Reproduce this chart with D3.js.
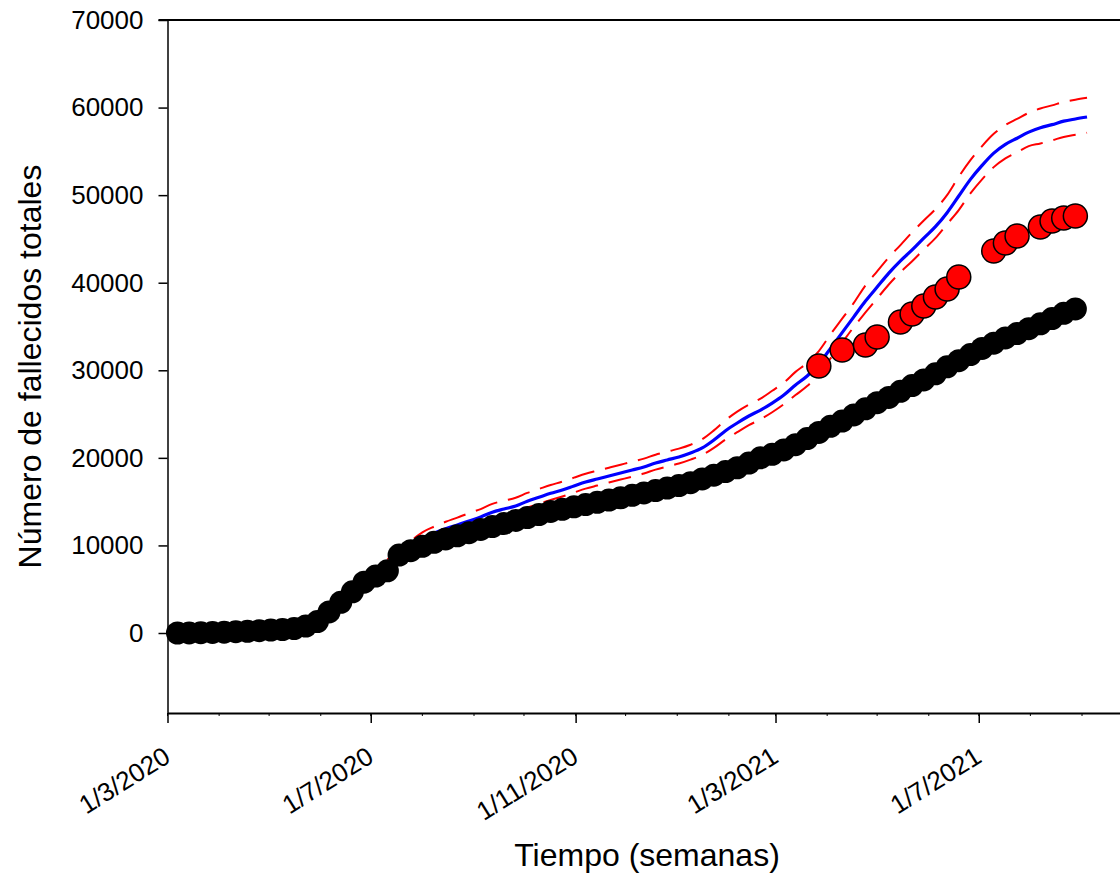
<!DOCTYPE html>
<html>
<head>
<meta charset="utf-8">
<script src="https://cdn.jsdelivr.net/npm/d3@7"></script>
<style>
  html, body { margin: 0; padding: 0; background: #fff; }
  svg { display: block; font-family: "Liberation Sans", Arial, sans-serif; }
</style>
</head>
<body>
<div id="chart"></div>
<script>
// Weekly series, first week 7/3/2020
const firstWeek = new Date(2020, 2, 7);
const lastWeek = new Date(2021, 8, 4);

// Black dots: deaths per week index 0..77
const fallecidos = [
  0, 10, 30, 60, 100, 150, 200, 260, 330, 400,
  500, 800, 1300, 2400, 3500, 4700, 5800, 6500, 7100, 8900,
  9400, 9900, 10350, 10740, 11100, 11460, 11820, 12160, 12500, 12850,
  13190, 13530, 13880, 14130, 14410, 14670, 14920, 15180, 15440, 15720,
  16000, 16270, 16550, 16830, 17160, 17590, 18020, 18440, 18870, 19400,
  20000, 20400, 20900, 21500, 22200, 22900, 23600, 24200, 24900, 25600,
  26300, 26900, 27600, 28250, 28900, 29600, 30400, 31100, 31800, 32500,
  33100, 33700, 34200, 34750, 35300, 35900, 36500, 37000
];

// Red dots: week index + value
const rojoSemana = [55, 57, 59, 60, 62, 63, 64, 65, 66, 67, 70, 71, 72, 74, 75, 76, 77];
const rojoValor = [30490, 32320, 32890, 33800, 35510, 36430, 37340, 38370, 39280, 40650,
                   43620, 44530, 45330, 46360, 47050, 47390, 47620];

// Model curve and band, week index 18..78
const modeloInicio = 18;
const modelo = [
  8000, 9100, 10000, 10800, 11400, 11900, 12330, 12790, 13250, 13800,
  14160, 14500, 15050, 15500, 15950, 16330, 16790, 17240, 17590, 17930,
  18270, 18610, 18960, 19410, 19760, 20100, 20550, 21130, 22040, 23100,
  23980, 24780, 25460, 26260, 27180, 28320, 29350, 30700, 32500, 34300,
  36100, 37900, 39500, 41100, 42500, 43750, 45100, 46400, 48000, 49900,
  51800, 53400, 54800, 55800, 56500, 57200, 57700, 58050, 58450, 58700,
  58920
];
const modeloSup = [
  8400, 9500, 10500, 11500, 12150, 12700, 13180, 13690, 14150, 14750,
  15110, 15450, 16000, 16450, 16900, 17280, 17740, 18190, 18540, 18880,
  19220, 19560, 19910, 20360, 20710, 21050, 21500, 22130, 23140, 24300,
  25280, 26080, 26760, 27660, 28580, 29820, 30850, 32200, 34100, 35900,
  37700, 39700, 41300, 42900, 44300, 45750, 47100, 48400, 50000, 52100,
  54000, 55600, 57000, 58000, 58700, 59400, 59900, 60250, 60650, 60900,
  61120
];
const modeloInf = [
  7700, 8800, 9700, 10400, 10900, 11350, 11780, 12190, 12600, 13050,
  13410, 13750, 14300, 14750, 15200, 15580, 16040, 16490, 16840, 17180,
  17520, 17860, 18210, 18660, 19010, 19350, 19800, 20330, 21140, 22100,
  22930, 23730, 24410, 25210, 26130, 27170, 28200, 29550, 31350, 33150,
  34950, 36600, 38200, 39800, 41200, 42450, 43800, 45100, 46700, 48300,
  50200, 51800, 53200, 54200, 54900, 55600, 55900, 56250, 56650, 56900,
  57120
];

const yTicks = [0, 10000, 20000, 30000, 40000, 50000, 60000, 70000];
const xTicks = [new Date(2020, 2, 1), new Date(2020, 6, 1), new Date(2020, 10, 1),
                new Date(2021, 2, 1), new Date(2021, 6, 1)];

const W = 1120, H = 878;
const mLeft = 167.5, mTop = 20, mBottom = 713, mRight = 1132;

const semanas = d3.timeDay.range(firstWeek, d3.timeDay.offset(lastWeek, 1), 7);

const x = d3.scaleTime()
  .domain([new Date(2020, 2, 1), new Date(2021, 9, 1)])
  .range([mLeft, mRight]);
const y = d3.scaleLinear()
  .domain([-9135, 70000])
  .range([mBottom, mTop]);

const svg = d3.select('#chart').append('svg')
  .attr('width', W)
  .attr('height', H);

// Axes
const yAxis = svg.append('g')
  .attr('transform', `translate(${mLeft},0)`)
  .call(d3.axisLeft(y).tickValues(yTicks).tickSize(9).tickSizeOuter(0).tickPadding(15)
    .tickFormat(d3.format('d')));
yAxis.select('.domain').attr('stroke-width', 1.5);
yAxis.selectAll('.tick line').attr('stroke-width', 1.5);
yAxis.selectAll('text').attr('font-size', 26).attr('fill', '#000');

const xAxis = svg.append('g')
  .attr('transform', `translate(0,${mBottom})`)
  .call(d3.axisBottom(x).tickValues(xTicks).tickSize(10).tickSizeOuter(0)
    .tickFormat(d3.timeFormat('%-d/%-m/%Y')));
xAxis.select('.domain').attr('stroke-width', 2);
xAxis.selectAll('.tick line').attr('stroke-width', 1.5);
xAxis.selectAll('text')
  .attr('font-size', 26)
  .attr('fill', '#000')
  .attr('text-anchor', 'end')
  .attr('x', 0).attr('y', 0).attr('dy', 0)
  .attr('transform', 'translate(4,48) rotate(-32)');

// Monthly minor ticks
svg.append('g').selectAll('line')
  .data(d3.timeMonth.range(new Date(2020, 2, 1), new Date(2021, 9, 2)))
  .join('line')
  .attr('x1', d => x(d)).attr('x2', d => x(d))
  .attr('y1', mBottom).attr('y2', mBottom + 3)
  .attr('stroke', '#000')
  .attr('stroke-width', 1);

// Top frame line
svg.append('line')
  .attr('x1', mLeft - 9).attr('x2', mRight)
  .attr('y1', mTop).attr('y2', mTop)
  .attr('stroke', '#000')
  .attr('stroke-width', 2);

// Model lines
const serie = vals => vals.map((v, i) => ({ date: semanas[modeloInicio + i], v }));
const line = d3.line()
  .x(d => x(d.date))
  .y(d => y(d.v))
  .curve(d3.curveMonotoneX);

svg.append('path')
  .datum(serie(modeloSup))
  .attr('d', line)
  .attr('fill', 'none')
  .attr('stroke', '#ff0000')
  .attr('stroke-width', 2)
  .attr('stroke-dasharray', '23,11');
svg.append('path')
  .datum(serie(modeloInf))
  .attr('d', line)
  .attr('fill', 'none')
  .attr('stroke', '#ff0000')
  .attr('stroke-width', 2)
  .attr('stroke-dasharray', '23,11');
svg.append('path')
  .datum(serie(modelo))
  .attr('d', line)
  .attr('fill', 'none')
  .attr('stroke', '#0000ff')
  .attr('stroke-width', 3.2);

// Observed dots
svg.append('g').selectAll('circle')
  .data(fallecidos)
  .join('circle')
  .attr('cx', (d, i) => x(semanas[i]))
  .attr('cy', d => y(d))
  .attr('r', 11.5)
  .attr('fill', '#000');

svg.append('g').selectAll('circle')
  .data(rojoValor)
  .join('circle')
  .attr('cx', (d, i) => x(semanas[rojoSemana[i]]))
  .attr('cy', d => y(d))
  .attr('r', 12)
  .attr('fill', '#ff0000')
  .attr('stroke', '#000')
  .attr('stroke-width', 1.5);

// Titles
svg.append('text')
  .attr('transform', `translate(41,${(mTop + mBottom) / 2}) rotate(-90)`)
  .attr('text-anchor', 'middle')
  .attr('font-size', 32)
  .text('Número de fallecidos totales');

svg.append('text')
  .attr('x', 647)
  .attr('y', 866)
  .attr('text-anchor', 'middle')
  .attr('font-size', 32)
  .text('Tiempo (semanas)');
</script>
</body>
</html>
